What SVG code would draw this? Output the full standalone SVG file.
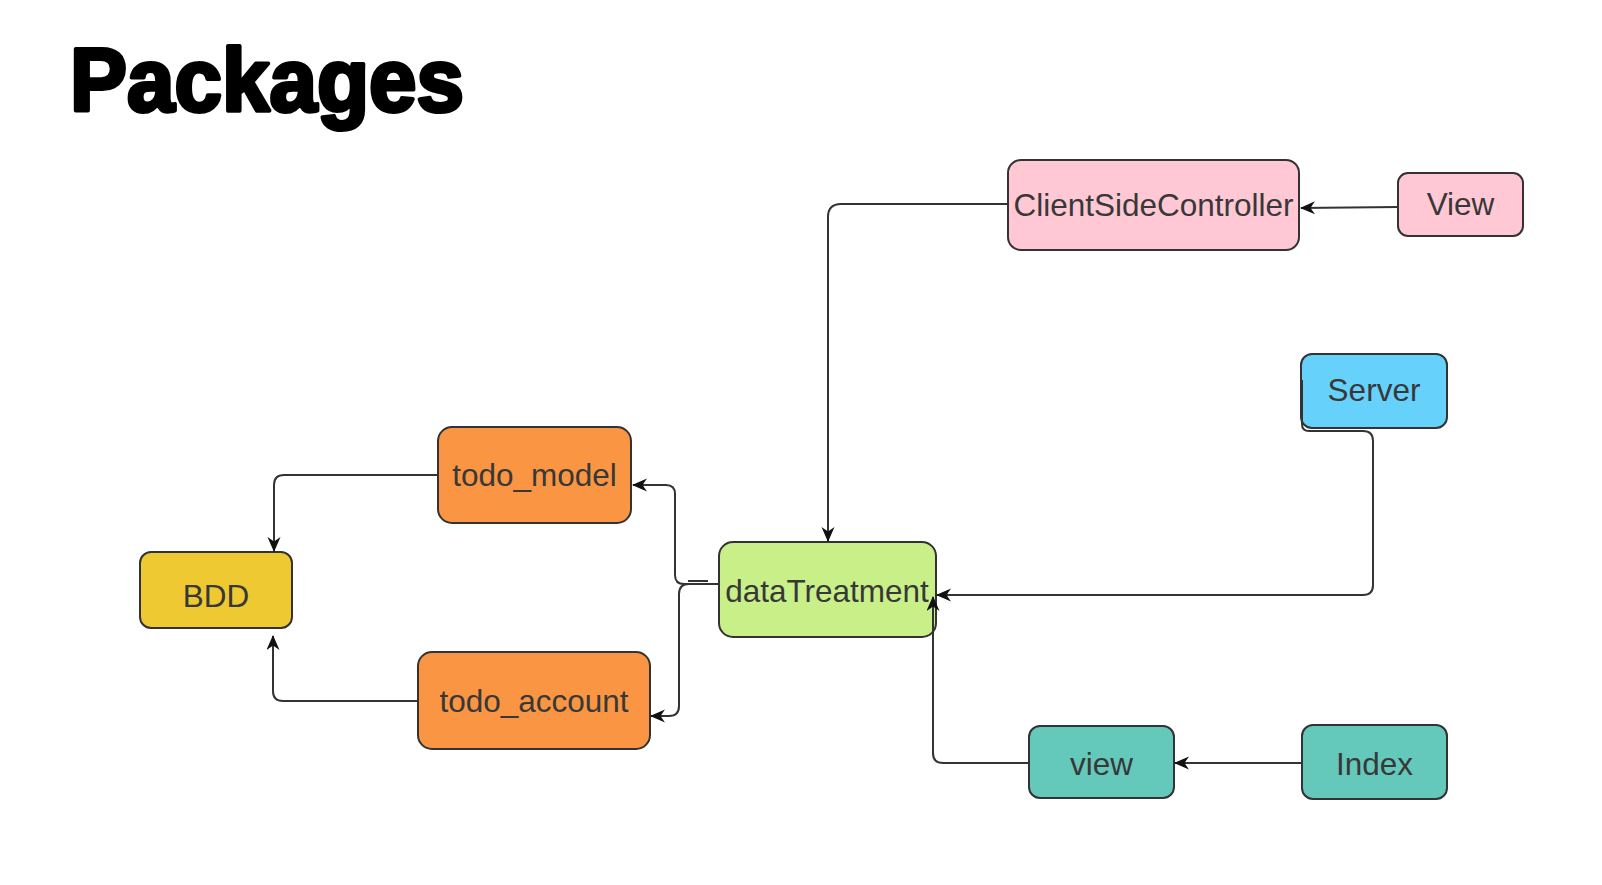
<svg xmlns="http://www.w3.org/2000/svg" width="1602" height="885" viewBox="0 0 1602 885">
<style>
.node rect{stroke:#333;stroke-width:2}
.node text{font-family:"Liberation Sans",Arial,sans-serif;font-size:31.5px;fill:#383838;text-anchor:middle}
.pink{fill:#FFC8D4}.blue{fill:#66D1FA}.orange{fill:#FA9643}.yellow{fill:#EFC932}.green{fill:#C8EF88}.teal{fill:#64C8BB}
#connectors path{fill:none;stroke:#333;stroke-width:2}
</style>
<defs>
<marker id="arr" markerWidth="17" markerHeight="15" refX="14" refY="6.5" orient="auto" markerUnits="userSpaceOnUse">
<path d="M0,0 L15,6.5 L0,13 L4.5,6.5 z" fill="#111"/>
</marker>
</defs>
<rect width="1602" height="885" fill="#fff"/>
<text x="70" y="111" font-family="'Liberation Sans',Arial,sans-serif" font-weight="bold" font-size="89" fill="#000" stroke="#000" stroke-width="4" stroke-linejoin="round" textLength="394" lengthAdjust="spacingAndGlyphs">Packages</text>

<g id="ClientSideController" class="node"><rect class="pink" x="1008" y="160" width="291" height="90" rx="13"/><text x="1153.5" y="216">ClientSideController</text></g>
<g id="View" class="node"><rect class="pink" x="1398" y="173" width="125" height="63" rx="10"/><text x="1460.5" y="215">View</text></g>
<g id="Server" class="node"><rect class="blue" x="1301" y="354" width="146" height="74" rx="11"/><text x="1374" y="401">Server</text></g>
<g id="todo_model" class="node"><rect class="orange" x="438" y="427" width="193" height="96" rx="14"/><text x="534.5" y="486">todo_model</text></g>
<g id="BDD" class="node"><rect class="yellow" x="140" y="552" width="152" height="76" rx="11"/><text x="216" y="607">BDD</text></g>
<g id="dataTreatment" class="node"><rect class="green" x="719" y="542" width="217" height="95" rx="14"/><text x="827" y="602">dataTreatment</text></g>
<g id="todo_account" class="node"><rect class="orange" x="418" y="652" width="232" height="97" rx="14"/><text x="534" y="712">todo_account</text></g>
<g id="view" class="node"><rect class="teal" x="1029" y="726" width="145" height="72" rx="11"/><text x="1101.5" y="775">view</text></g>
<g id="Index" class="node"><rect class="teal" x="1302" y="725" width="145" height="74" rx="11"/><text x="1374.5" y="775">Index</text></g>

<g id="connectors">
<path d="M1008,204 H841 Q828,204 828,217 V541" marker-end="url(#arr)"/>
<path d="M1398,207 L1301,208" marker-end="url(#arr)"/>
<path d="M1302,380 V424 Q1302,431 1309,431 H1363 Q1373,431 1373,441 V585 Q1373,595 1363,595 H937" marker-end="url(#arr)"/>
<path d="M719,584 H684 Q675,584 675,575 V494 Q675,485 666,485 H633" marker-end="url(#arr)"/>
<path d="M688,581 H708"/>
<path d="M700,584 H689 Q679,584 679,594 V706 Q679,716 669,716 H651" marker-end="url(#arr)"/>
<path d="M1029,763 H943 Q933,763 933,753 V597" marker-end="url(#arr)"/>
<path d="M1302,763 L1175,763" marker-end="url(#arr)"/>
<path d="M438,475 H284 Q274,475 274,485 V551" marker-end="url(#arr)"/>
<path d="M418,701 H283 Q273,701 273,691 V636" marker-end="url(#arr)"/>
</g>
</svg>
